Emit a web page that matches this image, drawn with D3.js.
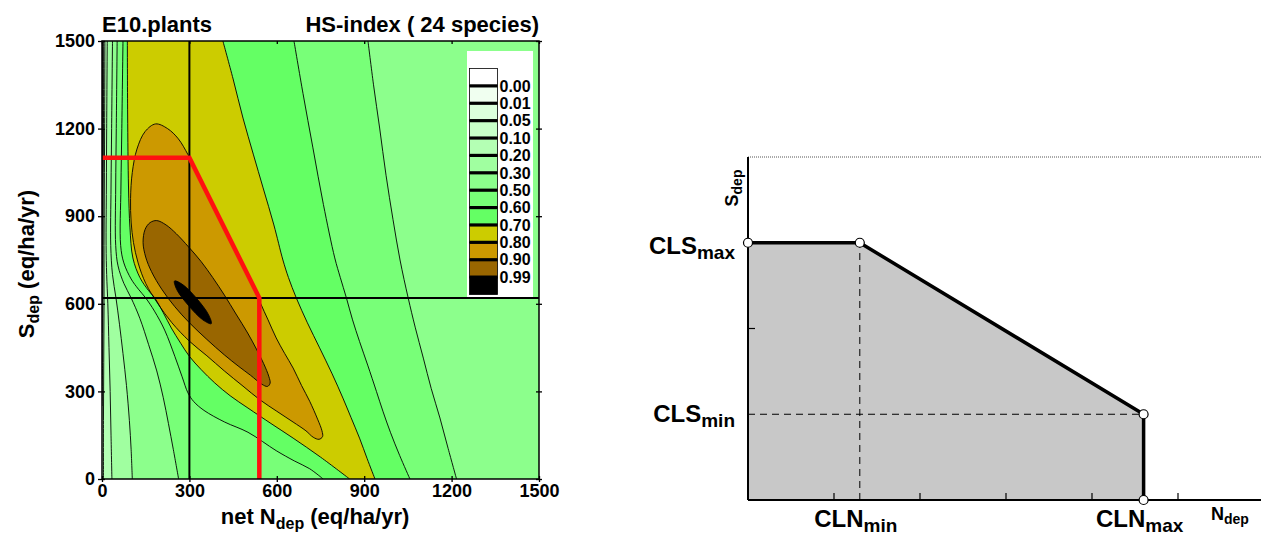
<!DOCTYPE html>
<html lang="en">
<head>
<meta charset="UTF-8">
<title>HS-index contours and critical load function</title>
<script src="https://cdn.jsdelivr.net/npm/d3@7"></script>
<style>
  body { margin: 0; background: #fff; }
  svg { display: block; font-family: "Liberation Sans", Arial, sans-serif; font-weight: bold; }
</style>
</head>
<body>
<svg id="chart" width="1261" height="536"></svg>
<script>
// contour levels of the HS-index
var levels = [0.00, 0.01, 0.05, 0.10, 0.20, 0.30, 0.50, 0.60, 0.70, 0.80, 0.90, 0.99];
var levelLabels = ['0.00', '0.01', '0.05', '0.10', '0.20', '0.30', '0.50', '0.60', '0.70', '0.80', '0.90', '0.99'];
// band colours: [0] below the lowest level, [i+1] above levels[i]
var bandColors = ['#ffffff', '#f0fff0', '#dcffdc', '#c8ffc8', '#b4ffb4', '#a0ffa0', '#8cff8c',
                  '#78ff78', '#64ff64', '#cccc00', '#cc9900', '#996600', '#000000'];

var xTicks = [0, 300, 600, 900, 1200, 1500];
var yTicks = [0, 300, 600, 900, 1200, 1500];

// contour lines, points are [net Ndep, Sdep] in eq/ha/yr
// left branches run from the top edge down, right branches from the bottom edge up
var c000 = [[1.5,1500],[1.2,1200],[1,1000],[0,850]];
var c001 = [[3.5,1500],[3,1200],[2.5,1000],[2,800],[1,600],[0,500]];
var c005 = [[6,1500],[5,1200],[4,1000],[3.5,800],[3,600],[2,400],[0,250]];
var c010 = [[10,1500],[9,1200],[8,1000],[7,800],[7,600],[6,400],[5,200],[5,0]];
var c020 = [[18,1500],[16,1200],[15,1000],[14,800],[16,700],[20,600],[24,450],[28,300],[31,150],[34,0]];
var c030 = [[36,1500],[33,1200],[31,1000],[30,800],[36,700],[48,620],[60,530],[72,430],[84,320],[94,200],[100,100],[104,0]];
var c050L = [[52,1500],[49,1200],[47,1000],[47,800],[55,730],[75,670],[100,620],[130,550],[160,460],[188,370],[210,280],[228,190],[245,100],[263,0]];
var c050R = [[1217,0],[1188,105],[1160,209],[1130,310],[1103,414],[1075,520],[1051,620],[1023,750],[999,888],[975,1040],[953,1202],[932,1350],[913,1500]];
var c060L = [[72,1500],[68,1200],[65,1000],[64,800],[75,740],[100,685],[125,650],[150,620],[180,575],[215,510],[250,420],[275,350],[295,295],[315,265],[350,235],[421,195],[501,160],[598,97],[660,62],[713,35],[759,0]];
var c060R = [[1057,0],[1022,80],[990,160],[965,230],[942,300],[912,390],[884,471],[860,545],[839,620],[818,690],[799,757],[760,940],[724,1134],[690,1320],[659,1500]];
var c070L = [[87,1500],[88,1250],[91,1000],[96,860],[106,757],[130,690],[160,645],[181,620],[210,570],[238,517],[270,465],[300,420],[340,375],[387,329],[440,285],[501,243],[580,190],[656,140],[750,75],[850,0]];
var c070R = [[937,0],[910,70],[884,140],[855,210],[827,277],[790,360],[747,449],[705,535],[667,620],[640,690],[621,750],[590,870],[553,997],[520,1110],[484,1236],[450,1370],[415,1500]];
var c080 = [[184,1216],[225,1200],[262,1165],[295,1111],[330,1040],[380,940],[430,840],[480,740],[530,640],[545,600],[570,545],[598,483],[627,430],[656,380],[685,320],[713,266],[740,205],[755,165],[757,145],[745,136],[725,143],[700,165],[656,195],[600,232],[541,272],[484,318],[420,370],[360,422],[300,472],[240,535],[192,600],[150,670],[124,740],[108,810],[100,880],[98,960],[104,1050],[120,1130],[148,1190]];
var c090 = [[188,885],[220,870],[255,840],[297,795],[340,745],[380,690],[420,630],[460,565],[500,500],[530,445],[555,395],[573,350],[577,328],[568,317],[548,325],[510,355],[470,385],[420,425],[360,478],[300,535],[250,590],[205,650],[170,710],[150,760],[141,810],[148,855],[165,878]];
var c099 = [[375,532],[366,562],[326,617],[278,665],[249,678],[257,648],[298,593],[346,545]];

// reference deposition and the critical load function (red)
var refN = 300, refS = 620;
var clfN = [0, 300, 540, 540];
var clfS = [1100, 1100, 620, 0];

// schematic panel, in tick units
var schemXTicks = [1, 2, 3, 4, 5];
var schemYTicks = [1];
var CLNmin = 1.3, CLNmax = 4.6, CLSmin = 0.5, CLSmax = 1.5;

var svg = d3.select('#chart');

// ---------- left panel ----------
var x = d3.scaleLinear().domain([0, 1500]).range([102, 539]);
var y = d3.scaleLinear().domain([0, 1500]).range([479, 41]);

var contours = [
    { left: c000 }, { left: c001 }, { left: c005 }, { left: c010 }, { left: c020 }, { left: c030 },
    { left: c050L, right: c050R }, { left: c060L, right: c060R }, { left: c070L, right: c070R },
    { closed: c080 }, { closed: c090 }, { closed: c099 }
];
contours.forEach(function (c, i) { c.level = levels[i]; c.color = bandColors[i + 1]; });

var openLine = d3.line().x(function (d) { return x(d[0]); }).y(function (d) { return y(d[1]); })
    .curve(d3.curveCatmullRom.alpha(0.5));
var closedLine = d3.line().x(function (d) { return x(d[0]); }).y(function (d) { return y(d[1]); })
    .curve(d3.curveCatmullRomClosed.alpha(0.5));

// area above a level: closed ring, or branch(es) closed along the plot edges
function regionPath(c) {
    if (c.closed) return closedLine(c.closed);
    var p = openLine(c.left);
    if (c.right) return p + openLine(c.right).replace(/^M/, 'L') + 'Z';
    var last = c.left[c.left.length - 1];
    if (last[0] === 0) p += 'L' + x(0) + ',' + y(0);
    return p + 'L' + x(1500) + ',' + y(0) + 'L' + x(1500) + ',' + y(1500) + 'Z';
}

svg.append('clipPath').attr('id', 'plotclip')
    .append('rect').attr('x', x(0)).attr('y', y(1500))
    .attr('width', x(1500) - x(0)).attr('height', y(0) - y(1500));

var plot = svg.append('g').attr('clip-path', 'url(#plotclip)');

plot.append('rect')
    .attr('x', x(0)).attr('y', y(1500))
    .attr('width', x(1500) - x(0)).attr('height', y(0) - y(1500))
    .attr('fill', bandColors[0]);

plot.selectAll('path.band')
    .data(contours)
    .enter()
    .append('path')
    .attr('class', 'band')
    .attr('d', regionPath)
    .attr('fill', function (d) { return d.color; })
    .attr('stroke', 'none');

// contour lines
var lineData = [];
contours.forEach(function (c) {
    if (c.closed) lineData.push(closedLine(c.closed));
    if (c.left) lineData.push(openLine(c.left));
    if (c.right) lineData.push(openLine(c.right));
});
plot.selectAll('path.cline')
    .data(lineData)
    .enter()
    .append('path')
    .attr('class', 'cline')
    .attr('d', function (d) { return d; })
    .attr('fill', 'none')
    .attr('stroke', '#000')
    .attr('stroke-width', 0.9);

// reference cross
plot.append('line')
    .attr('x1', x(refN)).attr('x2', x(refN)).attr('y1', y(0)).attr('y2', y(1500))
    .attr('stroke', '#000').attr('stroke-width', 2);
plot.append('line')
    .attr('x1', x(0)).attr('x2', x(1500)).attr('y1', y(refS)).attr('y2', y(refS))
    .attr('stroke', '#000').attr('stroke-width', 2);

// critical load function
var clf = clfN.map(function (n, i) { return [n, clfS[i]]; });
plot.append('path')
    .attr('d', d3.line().x(function (d) { return x(d[0]); }).y(function (d) { return y(d[1]); })(clf))
    .attr('fill', 'none')
    .attr('stroke', '#ff1010')
    .attr('stroke-width', 4.5)
    .attr('stroke-linejoin', 'miter');

// legend
var lg = svg.append('g');
var ly = d3.scaleLinear().domain([0, bandColors.length]).range([68.5, 294.5]);
lg.append('rect')
    .attr('x', 467).attr('y', 51).attr('width', 66).attr('height', 246)
    .attr('fill', '#fff');
lg.selectAll('rect.box')
    .data(bandColors)
    .enter()
    .append('rect')
    .attr('class', 'box')
    .attr('x', 469.5)
    .attr('y', function (d, i) { return ly(i); })
    .attr('width', 28)
    .attr('height', ly(1) - ly(0))
    .attr('fill', function (d) { return d; })
    .attr('stroke', '#000')
    .attr('stroke-width', 0.8);
lg.selectAll('line.sep')
    .data(levelLabels)
    .enter()
    .append('line')
    .attr('class', 'sep')
    .attr('x1', 469.5).attr('x2', 497.5)
    .attr('y1', function (d, i) { return ly(i + 1); })
    .attr('y2', function (d, i) { return ly(i + 1); })
    .attr('stroke', '#000')
    .attr('stroke-width', 3.2);
lg.selectAll('text')
    .data(levelLabels)
    .enter()
    .append('text')
    .attr('x', 499.5)
    .attr('y', function (d, i) { return ly(i + 1); })
    .attr('dy', '0.36em')
    .attr('font-size', 16)
    .text(function (d) { return d; });

// frame and ticks
svg.append('rect')
    .attr('x', x(0)).attr('y', y(1500))
    .attr('width', x(1500) - x(0)).attr('height', y(0) - y(1500))
    .attr('fill', 'none').attr('stroke', '#000').attr('stroke-width', 1.5);

function styleAxis(g) {
    g.select('.domain').remove();
    g.selectAll('.tick line').attr('stroke', '#000').attr('stroke-width', 1.3);
    g.selectAll('.tick text').attr('font-size', 18).attr('font-weight', 'bold').attr('fill', '#000')
        .attr('font-family', '"Liberation Sans", Arial, sans-serif');
}

svg.append('g').attr('transform', 'translate(0,' + y(0) + ')')
    .call(d3.axisBottom(x).tickValues(xTicks).tickSize(3).tickPadding(2).tickFormat(d3.format('d')))
    .call(styleAxis);
svg.append('g').attr('transform', 'translate(0,' + y(0) + ')')
    .call(d3.axisBottom(x).tickValues(xTicks).tickSize(-3).tickFormat(''))
    .call(styleAxis);
svg.append('g').attr('transform', 'translate(0,' + y(1500) + ')')
    .call(d3.axisTop(x).tickValues(xTicks).tickSize(-3).tickFormat(''))
    .call(styleAxis);
svg.append('g').attr('transform', 'translate(' + x(0) + ',0)')
    .call(d3.axisLeft(y).tickValues(yTicks).tickSize(4).tickPadding(3).tickFormat(d3.format('d')))
    .call(styleAxis);
svg.append('g').attr('transform', 'translate(' + x(0) + ',0)')
    .call(d3.axisLeft(y).tickValues(yTicks).tickSize(-3).tickFormat(''))
    .call(styleAxis);
svg.append('g').attr('transform', 'translate(' + x(1500) + ',0)')
    .call(d3.axisRight(y).tickValues(yTicks).tickSize(3).tickFormat(''))
    .call(styleAxis);
svg.append('g').attr('transform', 'translate(' + x(1500) + ',0)')
    .call(d3.axisRight(y).tickValues(yTicks).tickSize(-3).tickFormat(''))
    .call(styleAxis);

// titles
svg.append('text').attr('x', x(0)).attr('y', 32).attr('font-size', 22).text('E10.plants');
svg.append('text').attr('x', x(1500)).attr('y', 32).attr('font-size', 22).attr('text-anchor', 'end')
    .text('HS-index ( 24 species)');

var xt = svg.append('text').attr('x', 315).attr('y', 524).attr('font-size', 22).attr('text-anchor', 'middle');
xt.append('tspan').text('net N');
xt.append('tspan').attr('font-size', 16).attr('dy', 5).text('dep');
xt.append('tspan').attr('dy', -5).text(' (eq/ha/yr)');

var yt = svg.append('text').attr('transform', 'translate(34,264) rotate(-90)')
    .attr('font-size', 22).attr('text-anchor', 'middle');
yt.append('tspan').text('S');
yt.append('tspan').attr('font-size', 16).attr('dy', 5).text('dep');
yt.append('tspan').attr('dy', -5).text(' (eq/ha/yr)');

// ---------- right panel: critical load function scheme ----------
var xs = d3.scaleLinear().domain([0, 6]).range([748, 1264]);
var ys = d3.scaleLinear().domain([0, 2]).range([500, 157]);
var sLine = d3.line().x(function (d) { return xs(d[0]); }).y(function (d) { return ys(d[1]); });

var area = [[0, 0], [0, CLSmax], [CLNmin, CLSmax], [CLNmax, CLSmin], [CLNmax, 0]];
var edge = [[0, CLSmax], [CLNmin, CLSmax], [CLNmax, CLSmin], [CLNmax, 0]];

svg.append('path').attr('d', sLine(area) + 'Z').attr('fill', '#c8c8c8');

// top dotted line
svg.append('line')
    .attr('x1', xs(0)).attr('x2', 1261).attr('y1', ys(2)).attr('y2', ys(2))
    .attr('stroke', '#555').attr('stroke-width', 1).attr('stroke-dasharray', '1,1');

// dashed guides
svg.append('path').attr('d', sLine([[CLNmin, 0], [CLNmin, CLSmax]]))
    .attr('stroke', '#000').attr('stroke-width', 1).attr('stroke-dasharray', '7,5').attr('fill', 'none');
svg.append('path').attr('d', sLine([[0, CLSmin], [CLNmax, CLSmin]]))
    .attr('stroke', '#000').attr('stroke-width', 1).attr('stroke-dasharray', '7,5').attr('fill', 'none');

// axes
svg.append('line').attr('x1', xs(0)).attr('x2', xs(0)).attr('y1', ys(0)).attr('y2', ys(2))
    .attr('stroke', '#000').attr('stroke-width', 2);
svg.append('line').attr('x1', xs(0)).attr('x2', 1261).attr('y1', ys(0)).attr('y2', ys(0))
    .attr('stroke', '#000').attr('stroke-width', 2);
svg.selectAll('line.sxt')
    .data(schemXTicks)
    .enter()
    .append('line')
    .attr('class', 'sxt')
    .attr('x1', function (d) { return xs(d); }).attr('x2', function (d) { return xs(d); })
    .attr('y1', ys(0)).attr('y2', ys(0) - 7)
    .attr('stroke', '#000').attr('stroke-width', 1.2);
svg.selectAll('line.syt')
    .data(schemYTicks)
    .enter()
    .append('line')
    .attr('class', 'syt')
    .attr('x1', xs(0)).attr('x2', xs(0) + 7)
    .attr('y1', function (d) { return ys(d); }).attr('y2', function (d) { return ys(d); })
    .attr('stroke', '#000').attr('stroke-width', 1.2);

// critical load edge
svg.append('path').attr('d', sLine(edge))
    .attr('fill', 'none').attr('stroke', '#000').attr('stroke-width', 3.5);

svg.selectAll('circle.node')
    .data(edge)
    .enter()
    .append('circle')
    .attr('class', 'node')
    .attr('cx', function (d) { return xs(d[0]); })
    .attr('cy', function (d) { return ys(d[1]); })
    .attr('r', 4.5)
    .attr('fill', '#fff')
    .attr('stroke', '#000')
    .attr('stroke-width', 1.2);

// labels
function subLabel(px, py, anchor, main, sub, size, subSize, shift) {
    var t = svg.append('text').attr('x', px).attr('y', py)
        .attr('font-size', size).attr('text-anchor', anchor);
    t.append('tspan').text(main);
    t.append('tspan').attr('font-size', subSize).attr('dy', shift).text(sub);
    return t;
}
subLabel(735, ys(CLSmax) + 11, 'end', 'CLS', 'max', 24, 19, 5);
subLabel(735, ys(CLSmin) + 8, 'end', 'CLS', 'min', 24, 19, 5);
subLabel(xs(CLNmin) - 4, 527, 'middle', 'CLN', 'min', 24, 19, 5);
subLabel(xs(CLNmax) - 4, 527, 'middle', 'CLN', 'max', 24, 19, 5);
subLabel(1211, 520, 'start', 'N', 'dep', 18, 14, 4);

var sd = svg.append('text').attr('transform', 'translate(738,188) rotate(-90)')
    .attr('font-size', 18).attr('text-anchor', 'middle');
sd.append('tspan').text('S');
sd.append('tspan').attr('font-size', 14).attr('dy', 4).text('dep');
</script>
</body>
</html>
